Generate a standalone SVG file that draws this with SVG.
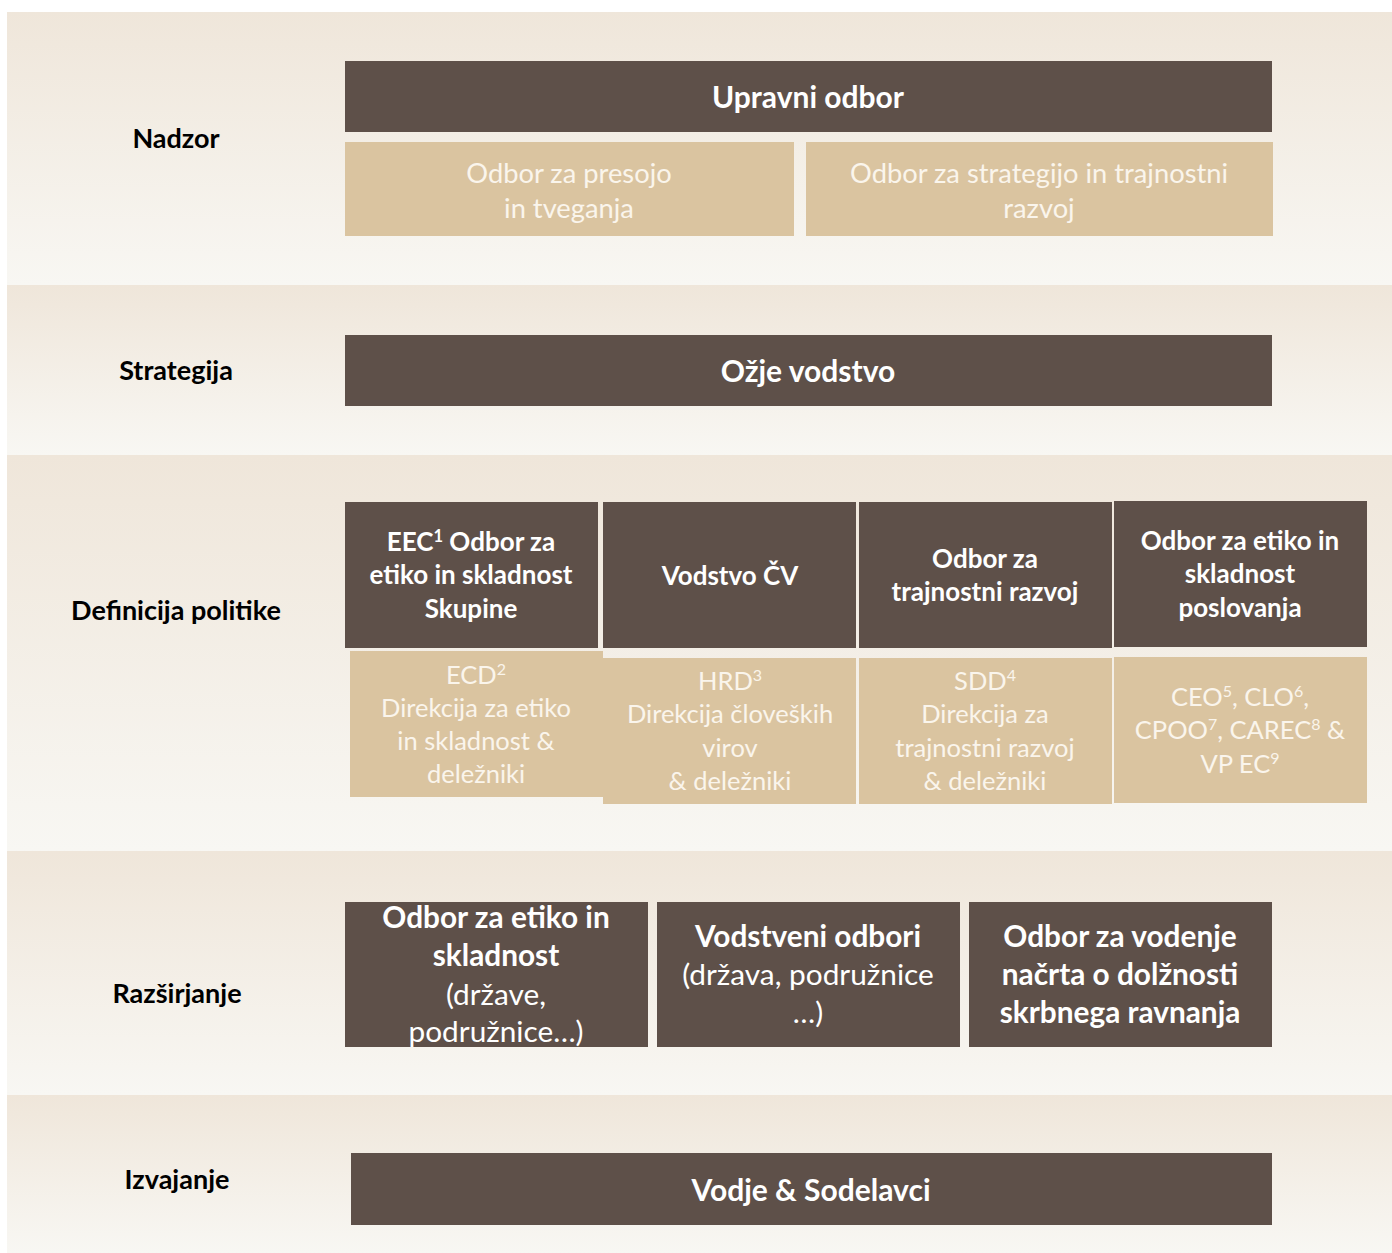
<svg xmlns="http://www.w3.org/2000/svg" width="1392" height="1253" viewBox="0 0 1392 1253">
<defs>
<linearGradient id="band" x1="0" y1="0" x2="0" y2="1">
<stop offset="0" stop-color="#EFE6DA"/>
<stop offset="1" stop-color="#F8F7F3"/>
</linearGradient>
<style>
.band{fill:url(#band)}
.dark{fill:#5E5049}
.tan{fill:#DAC4A0}
.lbl{font-family:Lato,"Liberation Sans",sans-serif;font-weight:bold;fill:#000;text-anchor:middle;font-size:27px}
.tb{font-family:Lato,"Liberation Sans",sans-serif;font-weight:bold;fill:#FFFFFF;text-anchor:middle}
.tr{font-family:Lato,"Liberation Sans",sans-serif;fill:#FFFFFF;text-anchor:middle}
.tt{font-family:Lato,"Liberation Sans",sans-serif;fill:#FAF5EC;text-anchor:middle}
</style>
</defs>
<rect width="1392" height="1253" fill="#FFFFFF"/>
<g id="bands">
<rect class="band" x="7" y="12" width="1385" height="273"/>
<rect class="band" x="7" y="285" width="1385" height="170"/>
<rect class="band" x="7" y="455" width="1385" height="396"/>
<rect class="band" x="7" y="851" width="1385" height="244"/>
<rect class="band" x="7" y="1095" width="1385" height="158"/>
</g>
<g id="labels">
<text class="lbl" x="176" y="148">Nadzor</text>
<text class="lbl" x="176" y="380">Strategija</text>
<text class="lbl" x="176" y="620">Definicija politike</text>
<text class="lbl" x="177" y="1003">Razširjanje</text>
<text class="lbl" x="177" y="1189">Izvajanje</text>
</g>
<g id="upravni-odbor">
<rect class="dark" x="345" y="61" width="927" height="71"/>
<text class="tb" x="808" y="108" font-size="30">Upravni odbor</text>
</g>
<g id="odbor-presoja">
<rect class="tan" x="345" y="142" width="449" height="94"/>
<text class="tt" x="569" y="183" font-size="27.3">Odbor za presojo</text>
<text class="tt" x="569" y="218" font-size="27.3">in tveganja</text>
</g>
<g id="odbor-strategija">
<rect class="tan" x="806" y="142" width="467" height="94"/>
<text class="tt" x="1039" y="183" font-size="27.3">Odbor za strategijo in trajnostni</text>
<text class="tt" x="1039" y="218" font-size="27.3">razvoj</text>
</g>
<g id="ozje-vodstvo">
<rect class="dark" x="345" y="335" width="927" height="71"/>
<text class="tb" x="808" y="382" font-size="30">Ožje vodstvo</text>
</g>
<g id="eec">
<rect class="dark" x="345" y="502" width="253" height="146"/>
<text class="tb" font-size="26"><tspan x="471" y="551">EEC<tspan dy="-9" font-size="16.5">1</tspan><tspan dy="9"> Odbor za</tspan></tspan><tspan x="471" y="584">etiko in skladnost</tspan><tspan x="471" y="618">Skupine</tspan></text>
</g>
<g id="vodstvo-cv">
<rect class="dark" x="603" y="502" width="253" height="146"/>
<text class="tb" x="730" y="585" font-size="26">Vodstvo ČV</text>
</g>
<g id="odbor-trajnostni">
<rect class="dark" x="859" y="502" width="253" height="146"/>
<text class="tb" font-size="26"><tspan x="985" y="568">Odbor za</tspan><tspan x="985" y="601">trajnostni razvoj</tspan></text>
</g>
<g id="odbor-poslovanje">
<rect class="dark" x="1114" y="501" width="253" height="146"/>
<text class="tb" font-size="26"><tspan x="1240" y="550">Odbor za etiko in</tspan><tspan x="1240" y="583">skladnost</tspan><tspan x="1240" y="617">poslovanja</tspan></text>
</g>
<g id="ecd">
<rect class="tan" x="350" y="651" width="253" height="146"/>
<text class="tt" font-size="25.5"><tspan x="476" y="684">ECD<tspan dy="-9" font-size="16">2</tspan></tspan><tspan x="476" y="717">Direkcija za etiko</tspan><tspan x="476" y="750">in skladnost &amp;</tspan><tspan x="476" y="783">deležniki</tspan></text>
</g>
<g id="hrd">
<rect class="tan" x="603" y="658" width="253" height="146"/>
<text class="tt" font-size="25.5"><tspan x="730" y="690">HRD<tspan dy="-9" font-size="16">3</tspan></tspan><tspan x="730" y="723">Direkcija človeških</tspan><tspan x="730" y="757">virov</tspan><tspan x="730" y="790">&amp; deležniki</tspan></text>
</g>
<g id="sdd">
<rect class="tan" x="859" y="658" width="253" height="146"/>
<text class="tt" font-size="25.5"><tspan x="985" y="690">SDD<tspan dy="-9" font-size="16">4</tspan></tspan><tspan x="985" y="723">Direkcija za</tspan><tspan x="985" y="757">trajnostni razvoj</tspan><tspan x="985" y="790">&amp; deležniki</tspan></text>
</g>
<g id="ceo">
<rect class="tan" x="1114" y="657" width="253" height="146"/>
<text class="tt" font-size="25.5"><tspan x="1240" y="706">CEO<tspan dy="-9" font-size="16">5</tspan><tspan dy="9">, CLO</tspan><tspan dy="-9" font-size="16">6</tspan><tspan dy="9">,</tspan></tspan><tspan x="1240" y="739">CPOO<tspan dy="-9" font-size="16">7</tspan><tspan dy="9">, CAREC</tspan><tspan dy="-9" font-size="16">8</tspan><tspan dy="9"> &amp;</tspan></tspan><tspan x="1240" y="773">VP EC<tspan dy="-9" font-size="16">9</tspan></tspan></text>
</g>
<g id="odbor-etika-drzave">
<rect class="dark" x="345" y="902" width="303" height="145"/>
<text class="tb" font-size="29.8"><tspan x="496" y="928">Odbor za etiko in</tspan><tspan x="496" y="966">skladnost</tspan></text>
<text class="tr" font-size="29.8"><tspan x="496" y="1005">(države,</tspan><tspan x="496" y="1042">podružnice…)</tspan></text>
</g>
<g id="vodstveni-odbori">
<rect class="dark" x="657" y="902" width="303" height="145"/>
<text class="tb" x="808" y="947" font-size="29.8">Vodstveni odbori</text>
<text class="tr" font-size="29.8"><tspan x="808" y="985">(država, podružnice</tspan><tspan x="808" y="1023">…)</tspan></text>
</g>
<g id="odbor-skrbno">
<rect class="dark" x="969" y="902" width="303" height="145"/>
<text class="tb" font-size="29.8"><tspan x="1120" y="947">Odbor za vodenje</tspan><tspan x="1120" y="985">načrta o dolžnosti</tspan><tspan x="1120" y="1023">skrbnega ravnanja</tspan></text>
</g>
<g id="vodje">
<rect class="dark" x="351" y="1153" width="921" height="72"/>
<text class="tb" x="811" y="1201" font-size="30">Vodje &amp; Sodelavci</text>
</g>
<g id="connectors"></g>
</svg>
